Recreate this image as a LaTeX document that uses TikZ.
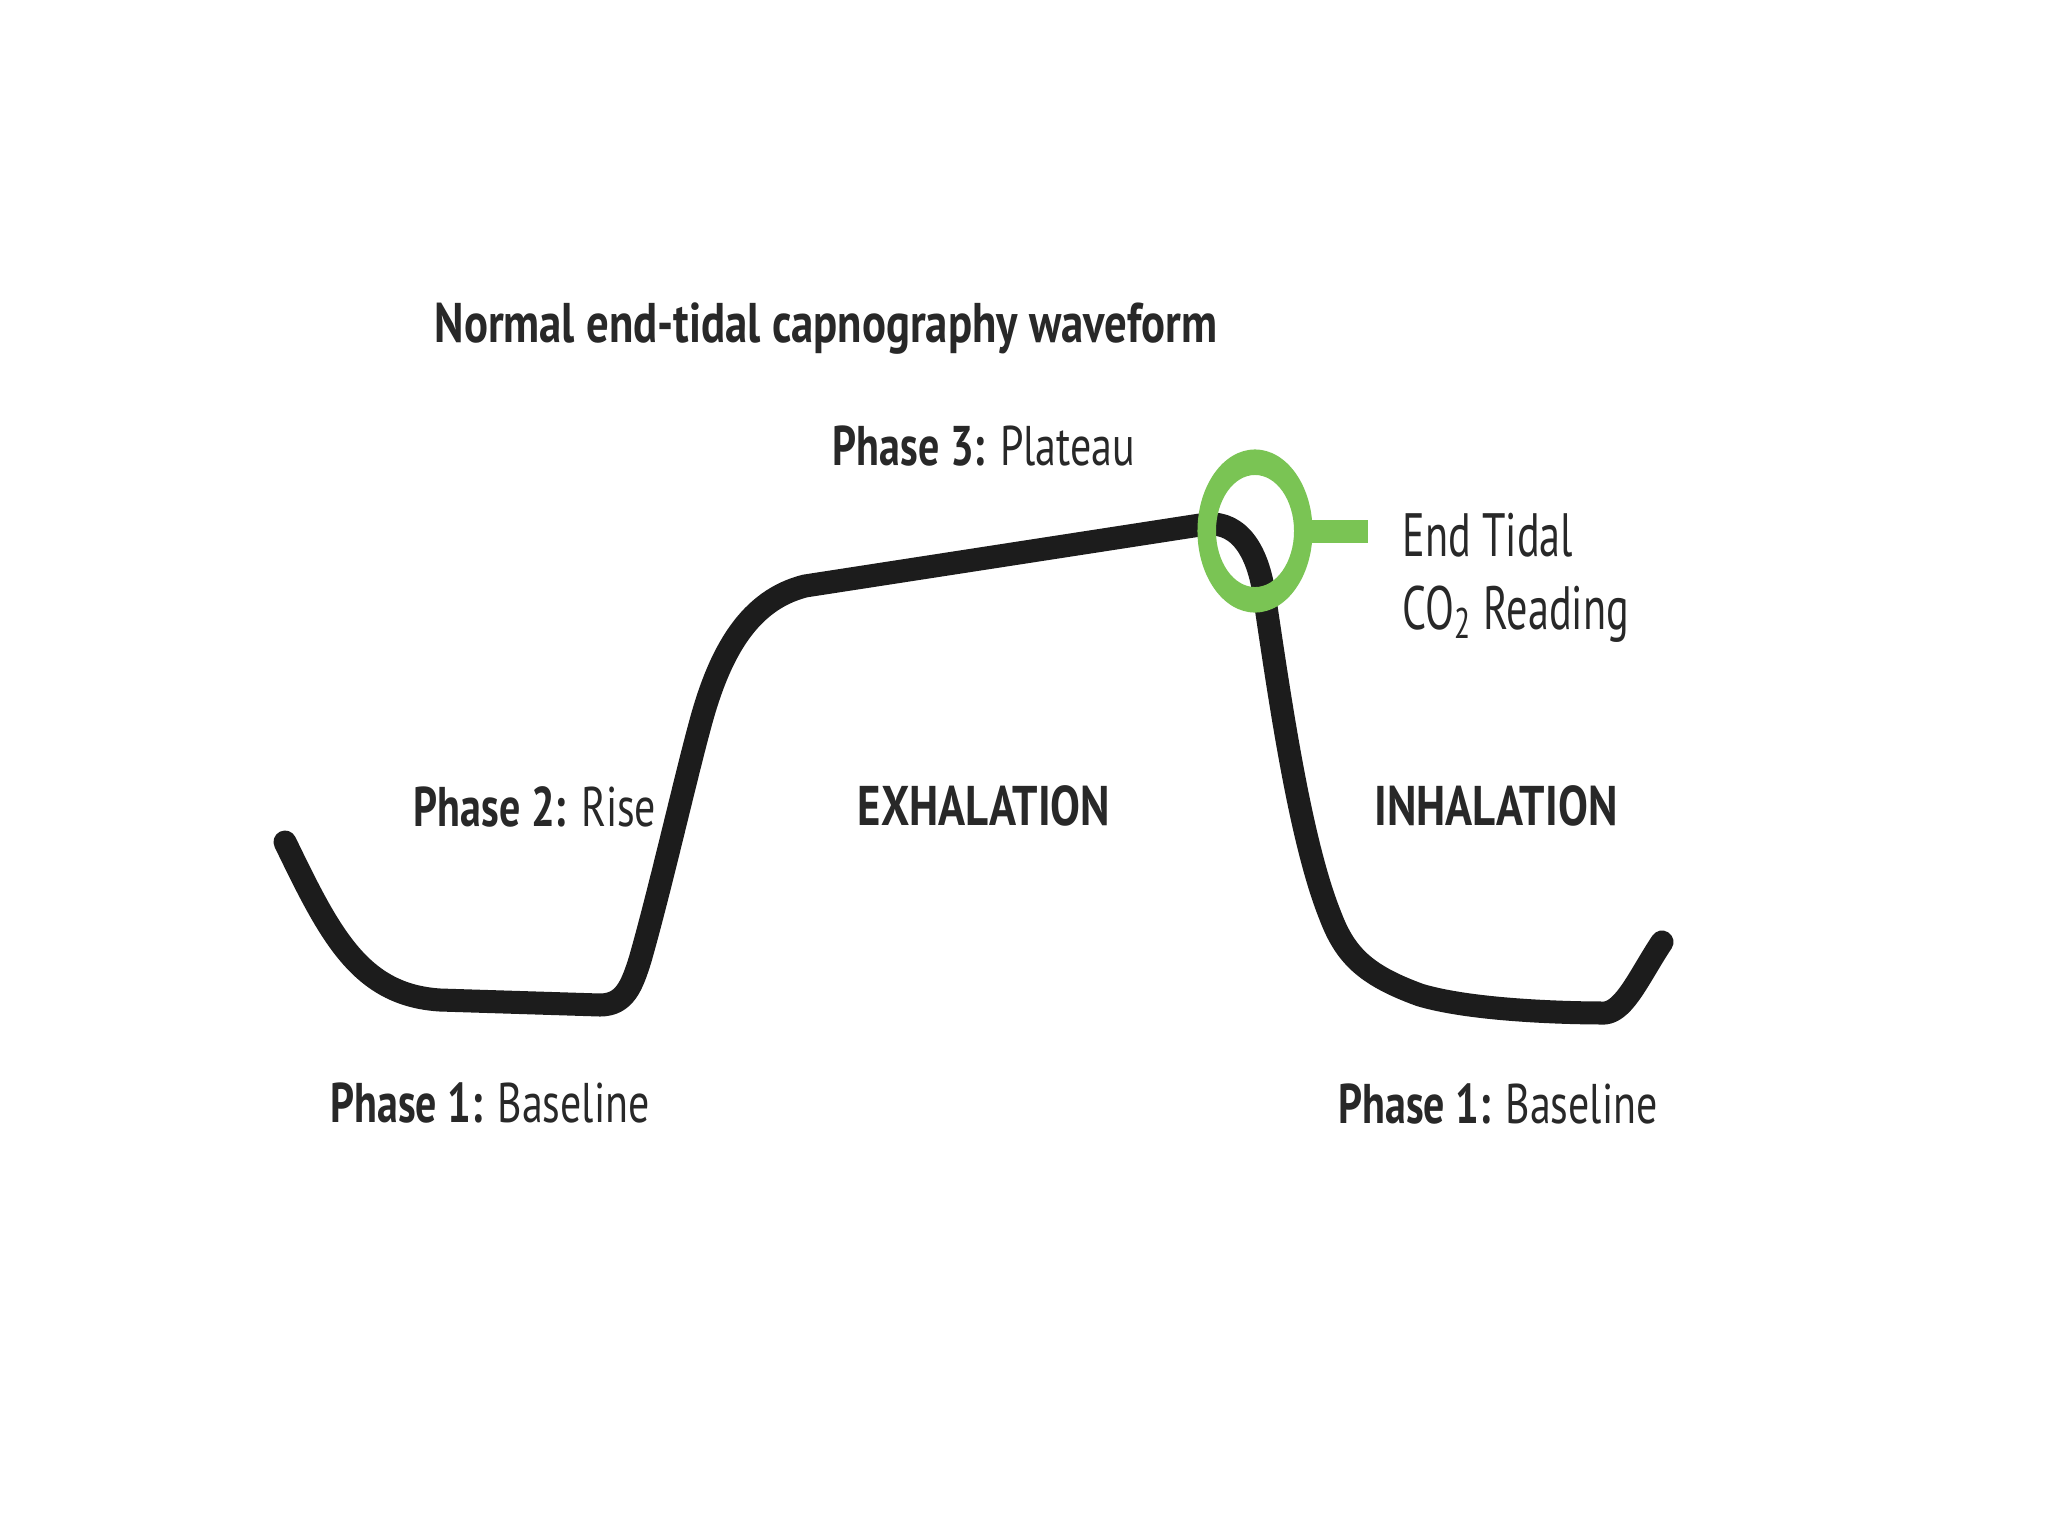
\documentclass[tikz,border=0pt]{standalone}
\usepackage{fontspec}
\setmainfont[FakeStretch=0.75]{PT Sans}
\newfontfamily\labfont[FakeStretch=0.75]{PT Sans}
\newfontfamily\widefont[FakeStretch=0.80]{PT Sans}
\newfontfamily\etfont[FakeStretch=0.69]{PT Sans}
\definecolor{wavecol}{RGB}{28,28,28}
\definecolor{txtcol}{RGB}{40,40,40}
\definecolor{etgreen}{RGB}{122,196,84}
\begin{document}
\begin{tikzpicture}[x=0.01cm,y=-0.01cm,
  lbl/.style={inner sep=0pt,anchor=base,text=txtcol,font=\labfont\fontsize{15.9pt}{18pt}\selectfont},
  widelbl/.style={inner sep=0pt,anchor=base,text=txtcol,font=\widefont\fontsize{15.9pt}{18pt}\selectfont},
  etlbl/.style={inner sep=0pt,anchor=base west,text=txtcol,font=\etfont\fontsize{17.4pt}{20pt}\selectfont},
  wave/.style={draw=wavecol,line width=0.23cm,line cap=round,line join=round},
  ringfill/.style={fill=etgreen,even odd rule},
  stub/.style={draw=etgreen,line width=0.23cm}]
\useasboundingbox[fill=white] (0,0) rectangle (2048,1536);
% waveform
\draw[wave] (285,842) .. controls (330,935) and (360,995) .. (440,1000)
  -- (600,1005)
  .. controls (625,1005) and (632,985) .. (640,960)
  .. controls (660,890) and (685,780) .. (700,725)
  .. controls (720,650) and (750,600) .. (805,586)
  -- (1200,525)
  .. controls (1235,518) and (1258,545) .. (1265,600)
  .. controls (1280,700) and (1300,840) .. (1330,915)
  .. controls (1345,955) and (1365,975) .. (1420,995)
  .. controls (1470,1010) and (1560,1013) .. (1605,1013)
  .. controls (1625,1011) and (1640,975) .. (1662,942);
% end tidal marker
\coordinate (ringc) at (1255,531);
\fill[ringfill] (ringc) ellipse [x radius=0.575cm, y radius=0.815cm]
                (ringc) ellipse [x radius=0.39cm, y radius=0.56cm];
\coordinate (ringe) at (1308,531);
\coordinate (stubend) at (1368,531);
\draw[stub] (ringe) -- (stubend);
% labels
\node[widelbl] (title) at (826,342) {\bfseries Normal end-tidal capnography waveform};
\node[lbl] (p3) at (984,465) {\textbf{Phase 3:} Plateau};
\node[etlbl] (et1) at (1402,556) {End Tidal};
\node[etlbl] (et2) at (1402,629) {CO\textsubscript{2} Reading};
\node[lbl] (p2) at (535,826) {\textbf{Phase 2:} Rise};
\node[widelbl] (exh) at (984,825) {\bfseries EXHALATION};
\node[widelbl] (inh) at (1496,825) {\bfseries INHALATION};
\node[lbl] (p1a) at (490,1122) {\textbf{Phase 1:} Baseline};
\node[lbl] (p1b) at (1498,1123) {\textbf{Phase 1:} Baseline};
\end{tikzpicture}
\end{document}
